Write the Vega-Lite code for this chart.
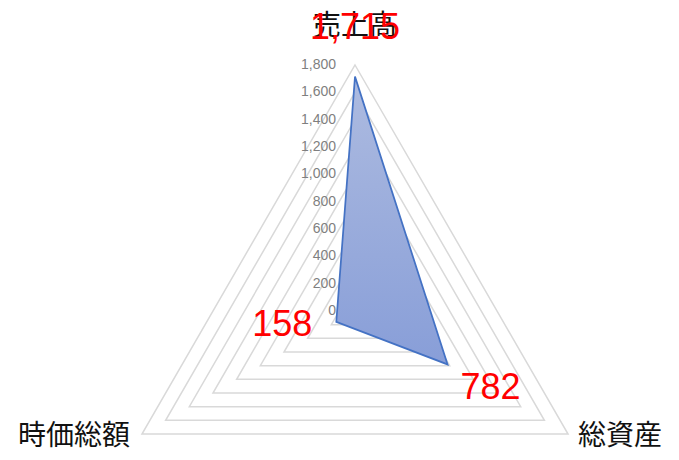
{
  "$schema": "https://vega.github.io/schema/vega-lite/v6.json",
  "width": 679,
  "height": 460,
  "padding": 0,
  "autosize": {"type": "none"},
  "background": "white",
  "datasets": {
    "vals": [
      {"axis": "売上高", "idx": 0, "value": 1715},
      {"axis": "総資産", "idx": 1, "value": 782},
      {"axis": "時価総額", "idx": 2, "value": 158}
    ],
    "ticks": [
      {"v": 0, "idx": [0, 1, 2]},
      {"v": 200, "idx": [0, 1, 2]},
      {"v": 400, "idx": [0, 1, 2]},
      {"v": 600, "idx": [0, 1, 2]},
      {"v": 800, "idx": [0, 1, 2]},
      {"v": 1000, "idx": [0, 1, 2]},
      {"v": 1200, "idx": [0, 1, 2]},
      {"v": 1400, "idx": [0, 1, 2]},
      {"v": 1600, "idx": [0, 1, 2]},
      {"v": 1800, "idx": [0, 1, 2]}
    ]
  },
  "encoding": {
    "x": {"field": "px", "type": "quantitative", "scale": {"domain": [-2597.6, 2370.7], "nice": false, "zero": false}, "axis": null},
    "y": {"field": "py", "type": "quantitative", "scale": {"domain": [-1090.2, 2275.6], "nice": false, "zero": false}, "axis": null}
  },
  "layer": [
    {
      "data": {"name": "ticks"},
      "transform": [
        {"filter": "datum.v > 0"},
        {"flatten": ["idx"]},
        {"calculate": "PI / 2 - datum.idx * 2 * PI / 3", "as": "a"},
        {"calculate": "datum.v * cos(datum.a)", "as": "px"},
        {"calculate": "datum.v * sin(datum.a)", "as": "py"}
      ],
      "mark": {"type": "line", "interpolate": "linear-closed", "stroke": "#d9d9d9", "strokeWidth": 1.5},
      "encoding": {
        "detail": {"field": "v", "type": "nominal"},
        "order": {"field": "idx", "type": "quantitative"}
      }
    },
    {
      "data": {"name": "vals"},
      "transform": [
        {"calculate": "PI / 2 - datum.idx * 2 * PI / 3", "as": "a"},
        {"calculate": "datum.value * cos(datum.a)", "as": "px"},
        {"calculate": "datum.value * sin(datum.a)", "as": "py"}
      ],
      "mark": {
        "type": "line",
        "interpolate": "linear-closed",
        "stroke": "#4472c4",
        "strokeWidth": 1.75,
        "fill": {
          "gradient": "linear", "x1": 0, "y1": 0, "x2": 0, "y2": 1,
          "stops": [{"offset": 0, "color": "#adbbe0"}, {"offset": 1, "color": "#889ed8"}]
        }
      },
      "encoding": {
        "order": {"field": "idx", "type": "quantitative"}
      }
    },
    {
      "data": {"name": "ticks"},
      "transform": [
        {"calculate": "0", "as": "px"},
        {"calculate": "datum.v", "as": "py"}
      ],
      "mark": {"type": "text", "align": "right", "baseline": "middle", "dx": -19, "font": "Liberation Sans", "fontSize": 14, "fill": "#7f7f7f"},
      "encoding": {
        "text": {"field": "v", "type": "quantitative", "format": ","}
      }
    },
    {
      "data": {"name": "vals"},
      "transform": [
        {"filter": "datum.idx == 0"},
        {"calculate": "0", "as": "px"},
        {"calculate": "1800", "as": "py"}
      ],
      "mark": {"type": "text", "align": "center", "baseline": "middle", "dy": -38, "font": "Noto Sans CJK JP", "fontSize": 28, "fill": "#111111"},
      "encoding": {"text": {"field": "axis"}}
    },
    {
      "data": {"name": "vals"},
      "transform": [
        {"filter": "datum.idx == 1"},
        {"calculate": "1800 * cos(-PI / 6)", "as": "px"},
        {"calculate": "1800 * sin(-PI / 6)", "as": "py"}
      ],
      "mark": {"type": "text", "align": "left", "baseline": "middle", "dx": 10, "dy": 3, "font": "Noto Sans CJK JP", "fontSize": 28, "fill": "#111111"},
      "encoding": {"text": {"field": "axis"}}
    },
    {
      "data": {"name": "vals"},
      "transform": [
        {"filter": "datum.idx == 2"},
        {"calculate": "-1800 * cos(-PI / 6)", "as": "px"},
        {"calculate": "1800 * sin(-PI / 6)", "as": "py"}
      ],
      "mark": {"type": "text", "align": "right", "baseline": "middle", "dx": -12, "dy": 3, "font": "Noto Sans CJK JP", "fontSize": 28, "fill": "#111111"},
      "encoding": {"text": {"field": "axis"}}
    },
    {
      "data": {"name": "vals"},
      "transform": [
        {"filter": "datum.idx == 0"},
        {"calculate": "0", "as": "px"},
        {"calculate": "datum.value", "as": "py"}
      ],
      "mark": {"type": "text", "align": "center", "baseline": "middle", "dy": -49, "font": "Liberation Sans", "fontSize": 36, "fill": "#ff0000"},
      "encoding": {"text": {"field": "value", "type": "quantitative", "format": ","}}
    },
    {
      "data": {"name": "vals"},
      "transform": [
        {"filter": "datum.idx == 1"},
        {"calculate": "datum.value * cos(-PI / 6)", "as": "px"},
        {"calculate": "datum.value * sin(-PI / 6)", "as": "py"}
      ],
      "mark": {"type": "text", "align": "left", "baseline": "middle", "dx": 13, "dy": 24, "font": "Liberation Sans", "fontSize": 36, "fill": "#ff0000"},
      "encoding": {"text": {"field": "value", "type": "quantitative", "format": ","}}
    },
    {
      "data": {"name": "vals"},
      "transform": [
        {"filter": "datum.idx == 2"},
        {"calculate": "-datum.value * cos(-PI / 6)", "as": "px"},
        {"calculate": "datum.value * sin(-PI / 6)", "as": "py"}
      ],
      "mark": {"type": "text", "align": "right", "baseline": "middle", "dx": -24, "dy": 3, "font": "Liberation Sans", "fontSize": 36, "fill": "#ff0000"},
      "encoding": {"text": {"field": "value", "type": "quantitative", "format": ","}}
    }
  ],
  "config": {"view": {"stroke": null}}
}
